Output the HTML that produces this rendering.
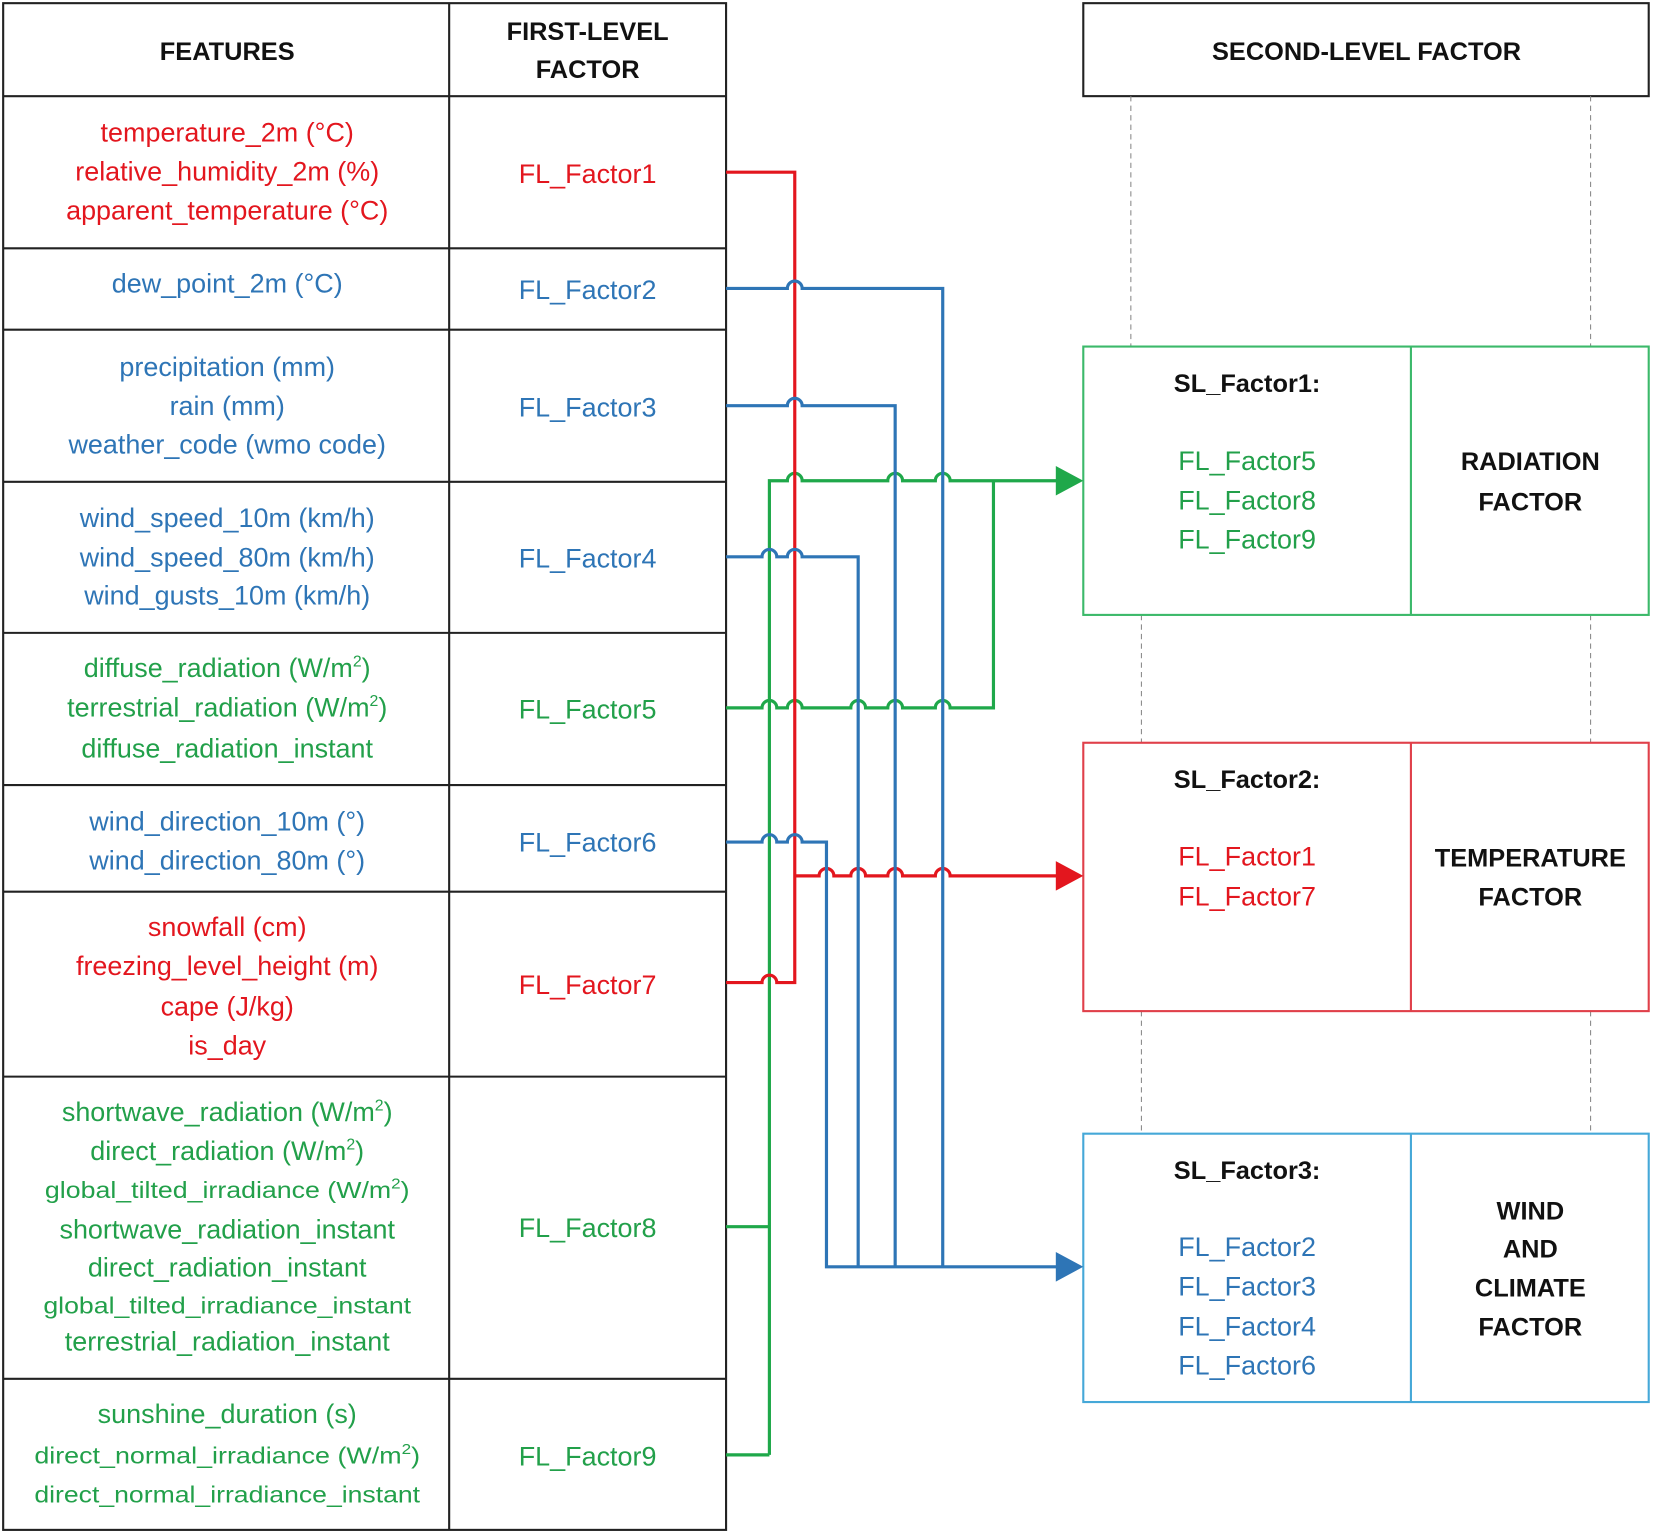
<!DOCTYPE html>
<html><head><meta charset="utf-8"><style>
html,body{margin:0;padding:0;background:#fff;}
svg{display:block;}
text{font-family:"Liberation Sans",sans-serif;}
.f{font-size:25.5px;text-anchor:middle;}
.s{font-size:22px;text-anchor:middle;}
.r{fill:#e3161e;} .b{fill:#2e75b6;} .g{fill:#22a04a;}
.k{font-weight:bold;font-size:24px;fill:#111;text-anchor:middle;}
</style></head><body>
<svg width="1654" height="1532" viewBox="0 0 1565 1450" preserveAspectRatio="none" xmlns="http://www.w3.org/2000/svg">
<rect x="0" y="0" width="1565" height="1450" fill="#fff"/>
<g stroke="#222" stroke-width="2" fill="none">
<rect x="3" y="3" width="684" height="1445"/>
<line x1="425" y1="3" x2="425" y2="1448"/>
<line x1="3" y1="91" x2="687" y2="91"/>
<line x1="3" y1="235" x2="687" y2="235"/>
<line x1="3" y1="312" x2="687" y2="312"/>
<line x1="3" y1="456" x2="687" y2="456"/>
<line x1="3" y1="599" x2="687" y2="599"/>
<line x1="3" y1="743" x2="687" y2="743"/>
<line x1="3" y1="844" x2="687" y2="844"/>
<line x1="3" y1="1019" x2="687" y2="1019"/>
<line x1="3" y1="1305" x2="687" y2="1305"/>
<rect x="1025" y="3" width="535" height="88"/>
</g>
<text class="k" x="215" y="57">FEATURES</text>
<text class="k" x="556" y="38">FIRST-LEVEL</text>
<text class="k" x="556" y="74">FACTOR</text>
<text class="k" x="1293" y="57">SECOND-LEVEL FACTOR</text>
<g stroke="#888" stroke-width="1" stroke-dasharray="5,4">
<line x1="1070" y1="91" x2="1070" y2="328"/><line x1="1505" y1="91" x2="1505" y2="328"/>
<line x1="1080" y1="582" x2="1080" y2="703"/><line x1="1505" y1="582" x2="1505" y2="703"/>
<line x1="1080" y1="957" x2="1080" y2="1073"/><line x1="1505" y1="957" x2="1505" y2="1073"/>
</g>
<g fill="#fff" stroke-width="2">
<rect x="1025" y="328" width="535" height="254" stroke="#3cb96a"/>
<line x1="1335" y1="328" x2="1335" y2="582" stroke="#3cb96a"/>
<rect x="1025" y="703" width="535" height="254" stroke="#e0404a"/>
<line x1="1335" y1="703" x2="1335" y2="957" stroke="#e0404a"/>
<rect x="1025" y="1073" width="535" height="254" stroke="#45a8d8"/>
<line x1="1335" y1="1073" x2="1335" y2="1327" stroke="#45a8d8"/>
</g>
<text class="f r" x="215" y="134">temperature_2m (°C)</text>
<text class="f r" x="215" y="171">relative_humidity_2m (%)</text>
<text class="f r" x="215" y="208">apparent_temperature (°C)</text>
<text class="f b" x="215" y="277">dew_point_2m (°C)</text>
<text class="f b" x="215" y="356">precipitation (mm)</text>
<text class="f b" x="215" y="393">rain (mm)</text>
<text class="f b" x="215" y="429">weather_code (wmo code)</text>
<text class="f b" x="215" y="499">wind_speed_10m (km/h)</text>
<text class="f b" x="215" y="536">wind_speed_80m (km/h)</text>
<text class="f b" x="215" y="572">wind_gusts_10m (km/h)</text>
<text class="f g" x="215" y="641">diffuse_radiation (W/m<tspan dy="-10" font-size="15">2</tspan><tspan dy="10">)</tspan></text>
<text class="f g" x="215" y="678">terrestrial_radiation (W/m<tspan dy="-10" font-size="15">2</tspan><tspan dy="10">)</tspan></text>
<text class="f g" x="215" y="717">diffuse_radiation_instant</text>
<text class="f b" x="215" y="786">wind_direction_10m (°)</text>
<text class="f b" x="215" y="823">wind_direction_80m (°)</text>
<text class="f r" x="215" y="886">snowfall (cm)</text>
<text class="f r" x="215" y="923">freezing_level_height (m)</text>
<text class="f r" x="215" y="961">cape (J/kg)</text>
<text class="f r" x="215" y="998">is_day</text>
<text class="f g" x="215" y="1061">shortwave_radiation (W/m<tspan dy="-10" font-size="15">2</tspan><tspan dy="10">)</tspan></text>
<text class="f g" x="215" y="1098">direct_radiation (W/m<tspan dy="-10" font-size="15">2</tspan><tspan dy="10">)</tspan></text>
<text class="s g" x="215" y="1134" textLength="345" lengthAdjust="spacingAndGlyphs">global_tilted_irradiance (W/m<tspan dy="-9" font-size="14">2</tspan><tspan dy="9">)</tspan></text>
<text class="f g" x="215" y="1172">shortwave_radiation_instant</text>
<text class="f g" x="215" y="1208">direct_radiation_instant</text>
<text class="s g" x="215" y="1243" textLength="348" lengthAdjust="spacingAndGlyphs">global_tilted_irradiance_instant</text>
<text class="f g" x="215" y="1278">terrestrial_radiation_instant</text>
<text class="f g" x="215" y="1347">sunshine_duration (s)</text>
<text class="s g" x="215" y="1385" textLength="365" lengthAdjust="spacingAndGlyphs">direct_normal_irradiance (W/m<tspan dy="-9" font-size="14">2</tspan><tspan dy="9">)</tspan></text>
<text class="s g" x="215" y="1422" textLength="365" lengthAdjust="spacingAndGlyphs">direct_normal_irradiance_instant</text>
<text class="f r" x="556" y="173">FL_Factor1</text>
<text class="f b" x="556" y="283">FL_Factor2</text>
<text class="f b" x="556" y="394">FL_Factor3</text>
<text class="f b" x="556" y="537">FL_Factor4</text>
<text class="f g" x="556" y="680">FL_Factor5</text>
<text class="f b" x="556" y="806">FL_Factor6</text>
<text class="f r" x="556" y="941">FL_Factor7</text>
<text class="f g" x="556" y="1171">FL_Factor8</text>
<text class="f g" x="556" y="1387">FL_Factor9</text>
<text class="k" x="1180" y="371">SL_Factor1:</text>
<text class="f g" x="1180" y="445">FL_Factor5</text>
<text class="f g" x="1180" y="482">FL_Factor8</text>
<text class="f g" x="1180" y="519">FL_Factor9</text>
<text class="k" x="1448" y="445">RADIATION</text>
<text class="k" x="1448" y="483">FACTOR</text>
<text class="k" x="1180" y="746">SL_Factor2:</text>
<text class="f r" x="1180" y="819">FL_Factor1</text>
<text class="f r" x="1180" y="857">FL_Factor7</text>
<text class="k" x="1448" y="820">TEMPERATURE</text>
<text class="k" x="1448" y="857">FACTOR</text>
<text class="k" x="1180" y="1116">SL_Factor3:</text>
<text class="f b" x="1180" y="1189">FL_Factor2</text>
<text class="f b" x="1180" y="1226">FL_Factor3</text>
<text class="f b" x="1180" y="1264">FL_Factor4</text>
<text class="f b" x="1180" y="1301">FL_Factor6</text>
<text class="k" x="1448" y="1154">WIND</text>
<text class="k" x="1448" y="1190">AND</text>
<text class="k" x="1448" y="1227">CLIMATE</text>
<text class="k" x="1448" y="1264">FACTOR</text>
<g fill="none" stroke-width="3" stroke-linejoin="miter">
<path stroke="#1fa84a" d="M687 1377 H728 M687 1161 H728 M728 1377 V455 H745 a7 7 0 0 1 14 0 H840 a7 7 0 0 1 14 0 H885 a7 7 0 0 1 14 0 H1000"/>
<path stroke="#1fa84a" d="M687 670 H721 a7 7 0 0 1 14 0 H745 a7 7 0 0 1 14 0 H805 a7 7 0 0 1 14 0 H840 a7 7 0 0 1 14 0 H885 a7 7 0 0 1 14 0 H940 V455"/>
<path stroke="#e3161e" d="M687 930 H721 a7 7 0 0 1 14 0 H752 V163 H687"/>
<path stroke="#e3161e" d="M752 829 H775 a7 7 0 0 1 14 0 H805 a7 7 0 0 1 14 0 H840 a7 7 0 0 1 14 0 H885 a7 7 0 0 1 14 0 H1000"/>
<path stroke="#2e75b6" d="M687 273 H745 a7 7 0 0 1 14 0 H892 V1199"/>
<path stroke="#2e75b6" d="M687 384 H745 a7 7 0 0 1 14 0 H847 V1199"/>
<path stroke="#2e75b6" d="M687 527 H721 a7 7 0 0 1 14 0 H745 a7 7 0 0 1 14 0 H812 V1199"/>
<path stroke="#2e75b6" d="M687 797 H721 a7 7 0 0 1 14 0 H745 a7 7 0 0 1 14 0 H782 V1199 H1000"/>
</g>
<polygon points="999,441 1025,455 999,469" fill="#1fa84a"/>
<polygon points="999,815 1025,829 999,843" fill="#e3161e"/>
<polygon points="999,1185 1025,1199 999,1213" fill="#2e75b6"/>
</svg>
</body></html>
